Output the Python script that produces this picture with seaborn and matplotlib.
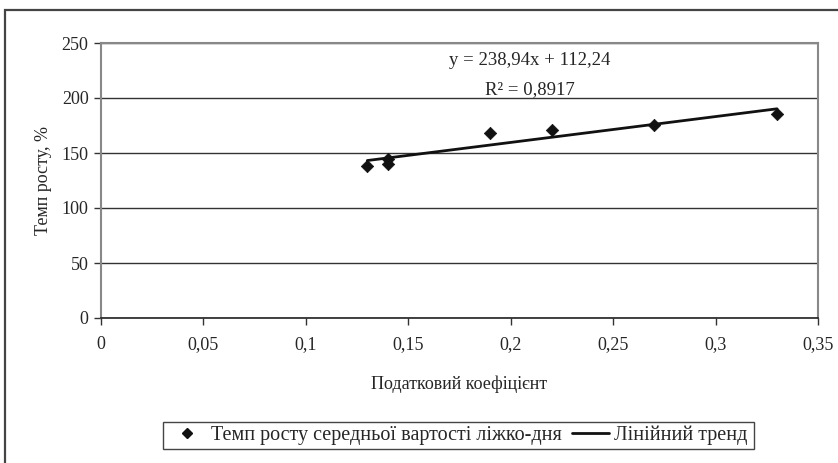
import numpy as np
import pandas as pd
import matplotlib
matplotlib.use("Agg")
import matplotlib.pyplot as plt
import seaborn as sns
from matplotlib.lines import Line2D
from matplotlib.patches import Rectangle

# Data
tax_coef = [0.13, 0.14, 0.14, 0.19, 0.22, 0.27, 0.33]
growth_rate = [138, 140, 145, 168, 171, 175, 185]
x_ticks = [0, 0.05, 0.1, 0.15, 0.2, 0.25, 0.3, 0.35]
x_ticklabels = ["0", "0,05", "0,1", "0,15", "0,2", "0,25", "0,3", "0,35"]
y_ticks = [0, 50, 100, 150, 200, 250]
series_name = "Темп росту середньої вартості ліжко-дня"
trend_name = "Лінійний тренд"
eq_text = "y = 238,94x + 112,24"
r2_text = "R² = 0,8917"

df = pd.DataFrame({"x": tax_coef, "y": growth_rate})

sns.set_theme(style="white")
plt.rcParams["font.family"] = ["Liberation Serif", "DejaVu Serif"]

fig = plt.figure(figsize=(8.38, 4.63), dpi=100)
ax = fig.add_axes([101/838, 1-318/463, (818-101)/838, (318-43)/463])

# Trend line
slope, intercept = np.polyfit(df["x"], df["y"], 1)
xs = np.array([min(tax_coef), max(tax_coef)])
trend = pd.DataFrame({"x": xs, "y": slope*xs + intercept})
sns.lineplot(data=trend, x="x", y="y", ax=ax, color="#111111", lw=2.0, zorder=3)
sns.scatterplot(data=df, x="x", y="y", ax=ax, marker="D", s=40, color="#111111",
                edgecolor="#111111", zorder=4)

fs = 13
ax.set_xlim(0, 0.35)
ax.set_ylim(0, 250)
ax.set_xticks(x_ticks)
ax.set_xticklabels(x_ticklabels, fontsize=fs)
ax.set_yticks(y_ticks)
ax.set_yticklabels([str(v) for v in y_ticks], fontsize=fs)
ax.yaxis.grid(True, color="#333333", lw=1.0)
ax.set_axisbelow(True)
ax.tick_params(axis="both", direction="out", length=5, width=1, color="#333333",
               left=True, bottom=True, pad=8)
ax.tick_params(axis="y", pad=4)
for s in ["left", "top", "right"]:
    ax.spines[s].set_color("#888888")
    ax.spines[s].set_linewidth(1.5)
ax.spines["bottom"].set_color("#222222")
ax.spines["bottom"].set_linewidth(1.2)

ax.set_xlabel("Податковий коефіцієнт", fontsize=fs, labelpad=16)
ax.set_ylabel("Темп росту, %", fontsize=fs, labelpad=7)

ax.text(0.2094, 234, eq_text, ha="center", va="center", fontsize=13.5)
ax.text(0.2094, 208, r2_text, ha="center", va="center", fontsize=13.5)

handles = [Line2D([], [], marker="D", color="#111111", ls="none", markersize=5),
           Line2D([], [], color="#111111", lw=2)]
leg = fig.legend(handles, [series_name, trend_name], loc="center",
                 bbox_to_anchor=(458/838, 1-435.5/463), ncol=2, fontsize=14.5,
                 frameon=False, handlelength=1.85, columnspacing=0.5,
                 handletextpad=0.25, borderpad=0.3)

fig.patches.append(Rectangle((163/838, 1-449/463), (754-163)/838, 27/463,
                             transform=fig.transFigure, fill=False,
                             edgecolor="#444444", lw=1.0))

fig.patches.append(Rectangle((5/838, -0.1), 1.2, 1.1 - 10/463, transform=fig.transFigure,
                             fill=False, edgecolor="#444444", lw=1.6, clip_on=False))

fig.savefig("out.png", dpi=100)
